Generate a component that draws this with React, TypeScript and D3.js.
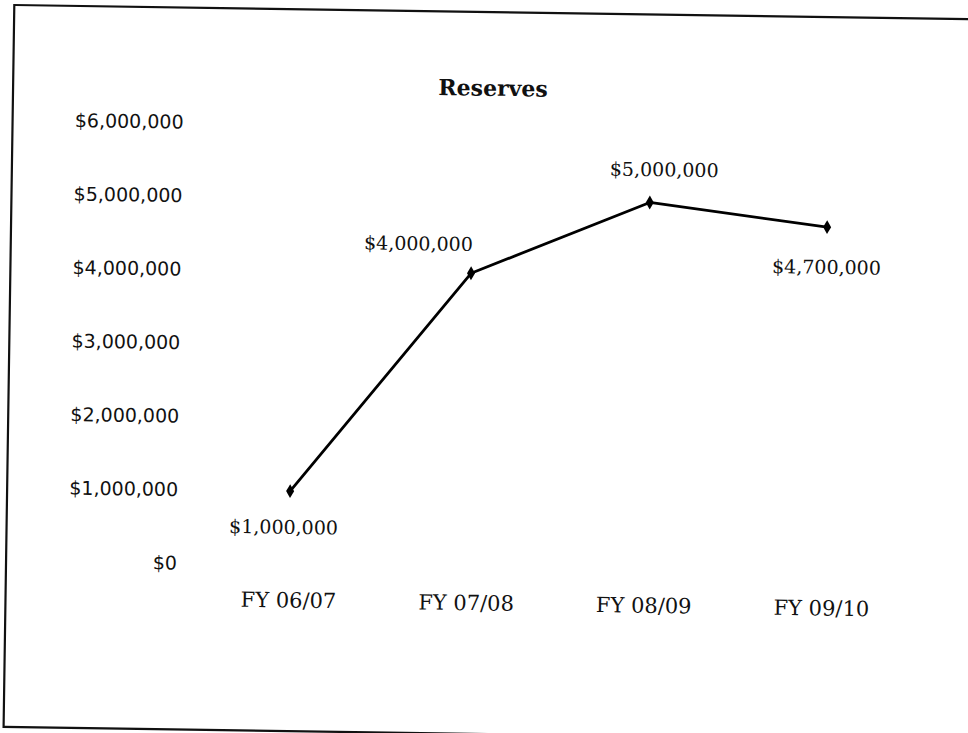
import * as d3 from "d3"

// data
const categories = ["FY 06/07", "FY 07/08", "FY 08/09", "FY 09/10"]
const reserves = [1000000, 4000000, 5000000, 4700000]
const yTicks = [0, 1000000, 2000000, 3000000, 4000000, 5000000, 6000000]

// where each value label sits relative to its marker
const labelOffsets: [number, number][] = [
  [-6, 36],
  [-53, -29],
  [14, -33],
  [0, 40],
]

const W = 968
const H = 733
// the scan is turned a little clockwise
const tilt = 0.85

export default function App() {
  const x = d3.scalePoint<string>().domain(categories).range([292, 825])
  const y = d3.scaleLinear().domain([0, 6000000]).range([567.5, 126.5])
  const fmt = d3.format("$,.0f")

  const line = d3
    .line<number>()
    .x((d, i) => x(categories[i]) as number)
    .y((d) => y(d))

  const diamond = d3.symbol().type(d3.symbolDiamond).size(56)()

  const serif = "'DejaVu Serif', serif"
  const sans = "'DejaVu Sans', sans-serif"

  return (
    <svg
      width={W}
      height={H}
      style={{ position: "absolute", left: 0, top: 0, background: "#fff" }}
    >
      <g transform={`rotate(${tilt}, 484, 366)`}>
        {/* frame */}
        <rect x={9} y={12} width={1000} height={722} fill="none" stroke="#111" strokeWidth={2.2} />

        <text
          x={489}
          y={88}
          textAnchor="middle"
          dy="0.35em"
          fontFamily={serif}
          fontWeight="bold"
          fontSize={22}
          fill="#111"
        >
          Reserves
        </text>

        {/* y axis labels, no axis line */}
        {yTicks.map((t) => (
          <text
            key={t}
            x={180}
            y={y(t)}
            dy="0.35em"
            textAnchor="end"
            fontFamily={sans}
            fontSize={19}
            fill="#111"
          >
            {fmt(t)}
          </text>
        ))}

        {/* category labels */}
        {categories.map((c) => (
          <text
            key={c}
            x={x(c)}
            y={603}
            dy="0.35em"
            textAnchor="middle"
            fontFamily={serif}
            fontSize={21}
            fill="#111"
          >
            {c}
          </text>
        ))}

        <path d={line(reserves) || ""} fill="none" stroke="#000" strokeWidth={2.8} strokeLinejoin="round" />

        {reserves.map((v, i) => (
          <path
            key={i}
            d={diamond || ""}
            transform={`translate(${x(categories[i])},${y(v)})`}
            fill="#000"
          />
        ))}

        {reserves.map((v, i) => (
          <text
            key={"l" + i}
            x={(x(categories[i]) as number) + labelOffsets[i][0]}
            y={y(v) + labelOffsets[i][1]}
            dy="0.35em"
            textAnchor="middle"
            fontFamily={serif}
            fontSize={19}
            fill="#111"
          >
            {fmt(v)}
          </text>
        ))}
      </g>
    </svg>
  )
}
